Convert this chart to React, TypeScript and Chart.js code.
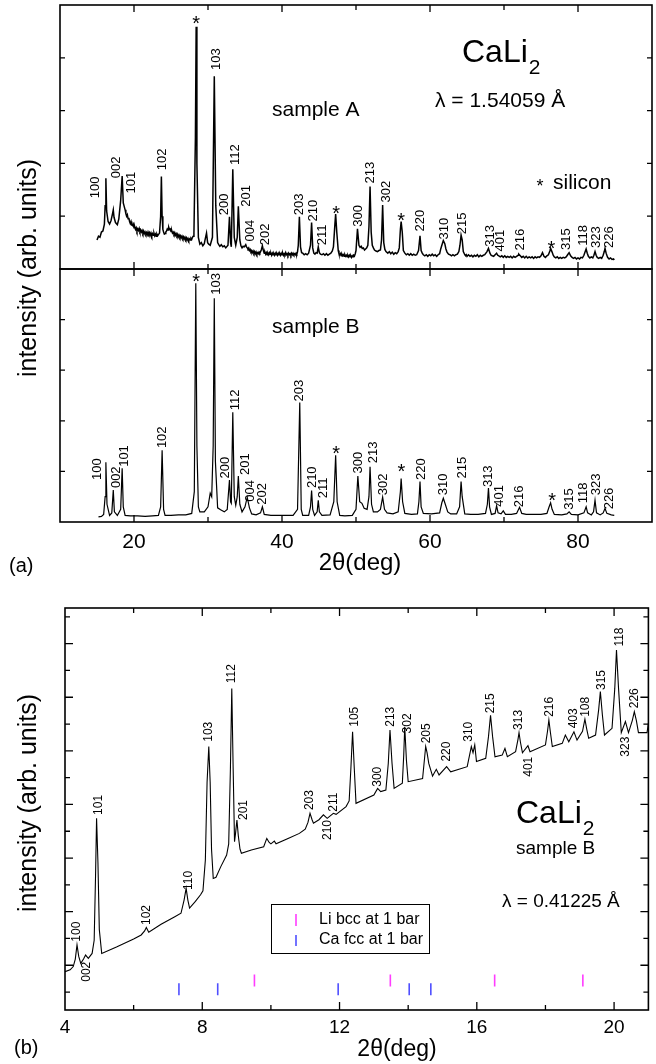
import React, { useEffect, useRef } from "react";
import { Chart, registerables } from "chart.js";

Chart.register(...registerables);

type Pt = [number, number];
type Lbl = [string, number, number, boolean?];

const FONT = "'Liberation Sans', Arial, Helvetica, sans-serif";

// ---------- Panel (a), sample A : [2theta, intensity] ----------
const sampleA: Pt[] = [
  [15.0, 0.55], [15.2, 0.62], [15.4, 0.6], [15.6, 0.7], [15.8, 0.72], [16.0, 0.85], [16.1, 1.2], [16.2, 1.72],
  [16.3, 1.1], [16.5, 0.9], [16.7, 0.85], [16.9, 0.92], [17.1, 1.05], [17.2, 1.12], [17.3, 0.98], [17.5, 0.88],
  [17.75, 0.84], [17.95, 0.95], [18.2, 1.3], [18.4, 1.76], [18.55, 1.25], [18.8, 1.12], [18.9, 1.05], [19.0, 1.0],
  [19.1, 1.03], [19.2, 0.95], [19.3, 0.97], [19.4, 0.9], [19.5, 0.86], [19.6, 0.9], [19.7, 0.83], [19.8, 0.82],
  [19.9, 0.85], [20.0, 0.78], [20.1, 0.8], [20.2, 0.75], [20.3, 0.78], [20.4, 0.72], [20.5, 0.76], [20.6, 0.73],
  [20.7, 0.77], [20.8, 0.71], [20.9, 0.74], [21.0, 0.7], [21.1, 0.73], [21.2, 0.68], [21.3, 0.72], [21.4, 0.67],
  [21.5, 0.7], [21.6, 0.66], [21.7, 0.69], [21.8, 0.65], [21.9, 0.7], [22.0, 0.66], [22.1, 0.69], [22.2, 0.64],
  [22.3, 0.68], [22.4, 0.63], [22.5, 0.67], [22.6, 0.64], [22.7, 0.68], [22.8, 0.63], [22.9, 0.66], [23.0, 0.62],
  [23.1, 0.66], [23.2, 0.63], [23.3, 0.65], [23.45, 0.68], [23.6, 1.0], [23.7, 1.75], [23.8, 1.0], [23.9, 0.75],
  [24.0, 0.7], [24.1, 0.66], [24.2, 0.67], [24.3, 0.7], [24.4, 0.72], [24.5, 0.76], [24.6, 0.74], [24.7, 0.79],
  [24.8, 0.75], [24.9, 0.76], [25.0, 0.71], [25.1, 0.73], [25.2, 0.68], [25.3, 0.7], [25.4, 0.66], [25.5, 0.69],
  [25.6, 0.64], [25.7, 0.67], [25.8, 0.63], [25.9, 0.66], [26.0, 0.61], [26.1, 0.64], [26.2, 0.6], [26.3, 0.63],
  [26.4, 0.59], [26.5, 0.62], [26.6, 0.58], [26.7, 0.61], [26.8, 0.57], [26.9, 0.6], [27.0, 0.56], [27.1, 0.59],
  [27.2, 0.55], [27.3, 0.58], [27.4, 0.54], [27.5, 0.57], [27.6, 0.55], [27.7, 0.58], [27.8, 0.56], [27.9, 0.6],
  [28.0, 0.62], [28.1, 0.68], [28.3, 2.5], [28.4, 4.59], [28.5, 2.0], [28.7, 0.6], [28.9, 0.47], [29.1, 0.5],
  [29.3, 0.44], [29.5, 0.48], [29.6, 0.55], [29.8, 0.68], [29.95, 0.5], [30.1, 0.47], [30.3, 0.45], [30.6, 0.6],
  [30.85, 3.65], [31.05, 1.2], [31.3, 0.5], [31.45, 0.46], [31.6, 0.43], [31.8, 0.46], [32.0, 0.42], [32.2, 0.44],
  [32.4, 0.4], [32.7, 0.45], [32.9, 0.99], [33.05, 0.5], [33.15, 0.42], [33.35, 1.89], [33.55, 0.6], [33.75, 0.45],
  [33.95, 0.6], [34.1, 1.19], [34.3, 0.55], [34.45, 0.44], [34.6, 0.4], [34.75, 0.43], [34.9, 0.42], [35.1, 0.46],
  [35.2, 0.42], [35.3, 0.4], [35.4, 0.38], [35.5, 0.4], [35.6, 0.35], [35.7, 0.37], [35.8, 0.33], [35.9, 0.35],
  [36.0, 0.31], [36.1, 0.34], [36.2, 0.3], [36.3, 0.33], [36.4, 0.29], [36.5, 0.32], [36.6, 0.28], [36.7, 0.31],
  [36.8, 0.29], [36.9, 0.32], [37.0, 0.3], [37.1, 0.33], [37.2, 0.36], [37.35, 0.44], [37.5, 0.34], [37.6, 0.3],
  [37.7, 0.32], [37.8, 0.28], [37.9, 0.31], [38.0, 0.27], [38.1, 0.3], [38.2, 0.27], [38.3, 0.31], [38.4, 0.28],
  [38.5, 0.3], [38.6, 0.26], [38.7, 0.3], [38.8, 0.27], [38.9, 0.29], [39.0, 0.26], [39.1, 0.3], [39.2, 0.27],
  [39.3, 0.29], [39.4, 0.26], [39.5, 0.3], [39.6, 0.27], [39.7, 0.29], [39.8, 0.26], [39.9, 0.3], [40.0, 0.27],
  [40.1, 0.3], [40.2, 0.26], [40.3, 0.29], [40.4, 0.27], [40.5, 0.31], [40.6, 0.27], [40.7, 0.29], [40.8, 0.26],
  [40.9, 0.3], [41.0, 0.27], [41.1, 0.29], [41.2, 0.26], [41.3, 0.3], [41.4, 0.27], [41.5, 0.3], [41.6, 0.27],
  [41.7, 0.29], [41.8, 0.27], [41.9, 0.3], [42.0, 0.28], [42.1, 0.33], [42.2, 0.45], [42.35, 0.99], [42.5, 0.42],
  [42.65, 0.31], [42.8, 0.3], [43.0, 0.27], [43.2, 0.29], [43.4, 0.27], [43.6, 0.3], [43.85, 0.45], [44.0, 0.88],
  [44.15, 0.4], [44.3, 0.3], [44.45, 0.28], [44.6, 0.31], [44.75, 0.3], [44.9, 0.42], [45.05, 0.31], [45.2, 0.28],
  [45.4, 0.27], [45.6, 0.29], [45.8, 0.26], [46.0, 0.29], [46.2, 0.26], [46.4, 0.28], [46.6, 0.3], [46.8, 0.34],
  [46.95, 0.42], [47.15, 0.85], [47.25, 1.04], [47.4, 0.7], [47.6, 0.35], [47.7, 0.29], [47.8, 0.27], [47.9, 0.29],
  [48.0, 0.25], [48.1, 0.28], [48.2, 0.25], [48.3, 0.27], [48.4, 0.24], [48.5, 0.27], [48.6, 0.24], [48.7, 0.26],
  [48.8, 0.23], [48.9, 0.26], [49.0, 0.23], [49.1, 0.26], [49.2, 0.23], [49.3, 0.25], [49.4, 0.22], [49.5, 0.25],
  [49.6, 0.23], [49.7, 0.26], [49.8, 0.25], [49.9, 0.29], [50.0, 0.35], [50.2, 0.76], [50.4, 0.45], [50.55, 0.41],
  [50.7, 0.43], [50.85, 0.39], [51.0, 0.4], [51.15, 0.36], [51.3, 0.38], [51.45, 0.4], [51.6, 0.45], [51.75, 0.8],
  [51.9, 1.56], [52.05, 0.7], [52.2, 0.45], [52.35, 0.4], [52.5, 0.36], [52.7, 0.34], [52.9, 0.33], [53.1, 0.35],
  [53.3, 0.36], [53.45, 0.55], [53.6, 1.21], [53.75, 0.5], [53.9, 0.37], [54.05, 0.33], [54.3, 0.3], [54.5, 0.33],
  [54.7, 0.29], [54.9, 0.32], [55.1, 0.28], [55.3, 0.31], [55.5, 0.29], [55.7, 0.33], [55.85, 0.4], [56.0, 0.75],
  [56.1, 0.9], [56.25, 0.7], [56.4, 0.35], [56.6, 0.3], [56.8, 0.27], [57.0, 0.29], [57.2, 0.26], [57.4, 0.29],
  [57.6, 0.26], [57.8, 0.28], [58.0, 0.26], [58.2, 0.27], [58.45, 0.35], [58.65, 0.63], [58.8, 0.35], [58.95, 0.3],
  [59.1, 0.27], [59.3, 0.25], [59.5, 0.27], [59.7, 0.24], [59.9, 0.27], [60.1, 0.25], [60.3, 0.28], [60.5, 0.25],
  [60.7, 0.27], [60.9, 0.24], [61.1, 0.27], [61.3, 0.29], [61.45, 0.38], [61.6, 0.45], [61.8, 0.54], [62.0, 0.48],
  [62.15, 0.38], [62.3, 0.32], [62.5, 0.28], [62.7, 0.27], [62.9, 0.25], [63.1, 0.27], [63.3, 0.25], [63.5, 0.27],
  [63.7, 0.28], [63.9, 0.33], [64.05, 0.45], [64.2, 0.64], [64.35, 0.55], [64.5, 0.33], [64.7, 0.27], [64.8, 0.25],
  [64.9, 0.27], [65.0, 0.24], [65.2, 0.27], [65.4, 0.24], [65.6, 0.26], [65.8, 0.23], [66.0, 0.26], [66.2, 0.24],
  [66.4, 0.27], [66.6, 0.23], [66.8, 0.26], [67.0, 0.24], [67.2, 0.26], [67.4, 0.27], [67.7, 0.33], [67.9, 0.39],
  [68.1, 0.3], [68.25, 0.26], [68.4, 0.25], [68.6, 0.24], [68.8, 0.27], [69.0, 0.3], [69.15, 0.26], [69.3, 0.25],
  [69.5, 0.23], [69.7, 0.25], [69.9, 0.22], [70.1, 0.25], [70.3, 0.22], [70.5, 0.24], [70.7, 0.22], [70.9, 0.24],
  [71.1, 0.21], [71.3, 0.24], [71.5, 0.22], [71.7, 0.24], [71.9, 0.26], [72.0, 0.28], [72.2, 0.25], [72.4, 0.22],
  [72.6, 0.24], [72.8, 0.21], [73.0, 0.24], [73.2, 0.21], [73.4, 0.23], [73.6, 0.21], [73.8, 0.23], [74.0, 0.2],
  [74.2, 0.23], [74.4, 0.21], [74.6, 0.23], [74.8, 0.22], [75.0, 0.25], [75.2, 0.31], [75.4, 0.24], [75.6, 0.22],
  [75.8, 0.25], [76.0, 0.27], [76.2, 0.34], [76.3, 0.39], [76.5, 0.32], [76.65, 0.26], [76.8, 0.23], [77.0, 0.21],
  [77.2, 0.23], [77.4, 0.2], [77.6, 0.22], [77.8, 0.2], [78.0, 0.22], [78.2, 0.21], [78.4, 0.23], [78.6, 0.27],
  [78.8, 0.31], [79.0, 0.25], [79.2, 0.22], [79.4, 0.2], [79.6, 0.22], [79.8, 0.19], [80.0, 0.21], [80.2, 0.19],
  [80.4, 0.22], [80.6, 0.21], [80.8, 0.26], [80.95, 0.32], [81.1, 0.38], [81.25, 0.3], [81.4, 0.24], [81.6, 0.21],
  [81.8, 0.23], [82.0, 0.21], [82.15, 0.26], [82.3, 0.33], [82.45, 0.26], [82.6, 0.22], [82.8, 0.2], [83.0, 0.22],
  [83.2, 0.2], [83.4, 0.26], [83.55, 0.33], [83.65, 0.39], [83.8, 0.3], [84.0, 0.22], [84.2, 0.19], [84.4, 0.21],
  [84.6, 0.18], [84.8, 0.19], [84.9, 0.17],
];

// ---------- Panel (a), sample B ----------
const sampleB: Pt[] = [
  [15.2, 0.1], [15.6, 0.11], [15.9, 0.15], [16.1, 0.5], [16.2, 1.18], [16.35, 0.35], [16.7, 0.13], [17.0, 0.18],
  [17.2, 0.63], [17.35, 0.2], [17.75, 0.13], [18.2, 0.25], [18.4, 1.06], [18.55, 0.3], [18.8, 0.13], [19.5, 0.12],
  [20.5, 0.12], [21.5, 0.11], [22.5, 0.12], [23.3, 0.13], [23.6, 0.3], [23.8, 1.42], [24.0, 0.25], [24.2, 0.13],
  [25.0, 0.13], [26.0, 0.14], [27.0, 0.14], [27.8, 0.17], [28.15, 0.6], [28.35, 4.72], [28.5, 1.5], [28.7, 0.3],
  [28.9, 0.2], [29.5, 0.2], [30.0, 0.3], [30.3, 0.57], [30.5, 0.5], [30.7, 1.5], [30.85, 4.42], [31.0, 1.2],
  [31.3, 0.28], [31.7, 0.24], [32.2, 0.2], [32.6, 0.25], [32.9, 0.83], [33.05, 0.4], [33.15, 0.37], [33.35, 2.17],
  [33.55, 0.5], [33.75, 0.33], [33.95, 0.5], [34.1, 0.91], [34.3, 0.35], [34.6, 0.2], [35.0, 0.3], [35.3, 0.49],
  [35.6, 0.28], [35.9, 0.16], [36.5, 0.14], [37.1, 0.18], [37.35, 0.3], [37.6, 0.15], [38.5, 0.13], [40.0, 0.13],
  [41.5, 0.13], [42.1, 0.25], [42.4, 2.36], [42.6, 0.25], [42.8, 0.13], [43.6, 0.13], [43.85, 0.3], [44.0, 0.62],
  [44.15, 0.25], [44.4, 0.13], [44.75, 0.2], [44.9, 0.43], [45.05, 0.2], [45.4, 0.13], [46.5, 0.14], [47.0, 0.4],
  [47.25, 1.32], [47.45, 0.4], [47.8, 0.13], [48.5, 0.12], [49.5, 0.13], [50.0, 0.25], [50.25, 0.91], [50.5, 0.4],
  [50.8, 0.37], [51.1, 0.27], [51.5, 0.25], [51.75, 0.5], [51.9, 1.09], [52.1, 0.35], [52.35, 0.2], [52.9, 0.2],
  [53.3, 0.25], [53.6, 0.49], [53.85, 0.25], [54.2, 0.18], [55.0, 0.16], [55.7, 0.2], [56.0, 0.6], [56.1, 0.86],
  [56.3, 0.4], [56.6, 0.17], [57.5, 0.15], [58.3, 0.16], [58.5, 0.4], [58.65, 0.8], [58.8, 0.3], [59.1, 0.17],
  [60.2, 0.16], [61.3, 0.18], [61.6, 0.38], [61.8, 0.47], [62.0, 0.38], [62.4, 0.2], [62.8, 0.16], [63.6, 0.16],
  [64.0, 0.3], [64.2, 0.8], [64.35, 0.5], [64.7, 0.16], [65.5, 0.15], [66.5, 0.15], [67.5, 0.17], [67.75, 0.35],
  [67.9, 0.67], [68.05, 0.3], [68.3, 0.15], [68.8, 0.17], [69.0, 0.32], [69.2, 0.18], [69.6, 0.16], [69.9, 0.22],
  [70.2, 0.15], [71.0, 0.15], [71.7, 0.17], [72.1, 0.29], [72.4, 0.17], [73.0, 0.15], [74.0, 0.15], [75.0, 0.15],
  [75.8, 0.17], [76.1, 0.3], [76.3, 0.38], [76.5, 0.25], [76.8, 0.15], [77.8, 0.14], [78.5, 0.16], [78.8, 0.2],
  [79.1, 0.15], [80.0, 0.14], [80.8, 0.18], [81.1, 0.3], [81.3, 0.18], [81.8, 0.14], [82.1, 0.2], [82.3, 0.43],
  [82.5, 0.18], [83.0, 0.14], [83.4, 0.18], [83.65, 0.27], [83.9, 0.17], [84.5, 0.14], [84.9, 0.13],
];

// ---------- Panel (b), synchrotron pattern of sample B ----------
const patternB: Pt[] = [
  [4.0, 1.43], [4.15, 1.5], [4.24, 1.62], [4.3, 1.9], [4.35, 2.43], [4.4, 2.0], [4.46, 1.74], [4.54, 1.9],
  [4.6, 2.05], [4.68, 1.93], [4.79, 2.11], [4.85, 2.6], [4.89, 5.0], [4.92, 7.15], [4.96, 5.5], [5.0, 3.0],
  [5.07, 2.11], [5.5, 2.35], [6.0, 2.65], [6.22, 2.8], [6.32, 2.95], [6.37, 3.08], [6.44, 2.9], [6.8, 3.2],
  [7.2, 3.48], [7.38, 3.61], [7.47, 4.1], [7.53, 4.54], [7.58, 4.1], [7.63, 3.8], [7.8, 4.05], [7.95, 4.3],
  [8.02, 4.45], [8.09, 5.6], [8.14, 8.5], [8.19, 9.83], [8.23, 8.5], [8.27, 6.0], [8.32, 4.91], [8.4, 4.95],
  [8.54, 5.35], [8.71, 5.78], [8.77, 6.2], [8.82, 9.0], [8.86, 12.0], [8.9, 9.0], [8.94, 6.28], [8.97, 6.6],
  [9.01, 7.09], [9.05, 6.5], [9.1, 6.0], [9.14, 5.85], [9.43, 5.97], [9.79, 6.09], [9.85, 6.3], [9.88, 6.4],
  [9.95, 6.25], [10.0, 6.2], [10.1, 6.3], [10.15, 6.2], [10.5, 6.4], [10.83, 6.59], [11.0, 6.75], [11.08, 7.0],
  [11.14, 7.34], [11.2, 7.1], [11.24, 6.97], [11.4, 7.1], [11.53, 7.28], [11.64, 7.15], [11.82, 7.34], [11.9, 7.3],
  [12.19, 7.59], [12.28, 7.8], [12.33, 9.0], [12.38, 10.38], [12.43, 9.0], [12.48, 7.71], [13.0, 8.02], [13.11, 8.27],
  [13.2, 8.15], [13.35, 8.21], [13.42, 9.2], [13.47, 10.45], [13.53, 9.2], [13.59, 8.27], [13.83, 8.46], [13.87, 9.5],
  [13.9, 10.57], [13.95, 9.3], [14.0, 8.52], [14.42, 8.64], [14.47, 9.3], [14.51, 9.83], [14.55, 9.6], [14.6, 9.2],
  [14.71, 8.73], [14.82, 8.98], [14.9, 8.77], [15.12, 9.08], [15.24, 8.89], [15.72, 9.08], [15.84, 9.83], [15.89, 9.6],
  [15.94, 9.89], [15.99, 9.27], [16.26, 9.39], [16.34, 10.2], [16.4, 11.0], [16.46, 10.2], [16.53, 9.45], [16.74, 9.51],
  [16.82, 9.76], [16.89, 9.45], [17.13, 9.64], [17.2, 10.1], [17.23, 10.35], [17.27, 10.0], [17.33, 9.6], [17.49, 9.86],
  [17.55, 9.64], [18.0, 9.89], [18.06, 10.4], [18.1, 10.82], [18.14, 10.4], [18.2, 9.83], [18.49, 9.95], [18.58, 10.26],
  [18.68, 10.01], [18.83, 10.38], [18.92, 10.07], [19.08, 10.4], [19.15, 10.85], [19.2, 10.5], [19.26, 10.14], [19.46, 10.26],
  [19.55, 11.2], [19.6, 11.88], [19.66, 11.0], [19.72, 10.26], [19.94, 10.51], [20.02, 12.0], [20.07, 13.43], [20.13, 12.0],
  [20.21, 10.35], [20.33, 10.76], [20.42, 10.35], [20.53, 10.8], [20.59, 11.13], [20.65, 10.8], [20.71, 10.35], [20.96, 10.35],
  [21.0, 10.7],
];

// ---------- peak labels: [text, 2theta, intensity, hangs below] ----------
const labelsA: Lbl[] = [
  ["100", 14.75, 1.34], ["002", 17.6, 1.72], ["101", 19.7, 1.43], ["102", 23.9, 1.87], ["*", 28.4, 4.72],
  ["103", 31.2, 3.77], ["200", 32.2, 1.02], ["112", 33.65, 1.97], ["201", 35.2, 1.18], ["004", 35.7, 0.52],
  ["202", 37.7, 0.45], ["203", 42.35, 1.02], ["210", 44.3, 0.9], ["211", 45.5, 0.45], ["*", 47.3, 1.12],
  ["300", 50.3, 0.8], ["213", 51.9, 1.62], ["302", 54.15, 1.26], ["*", 56.1, 0.99], ["220", 58.65, 0.71],
  ["310", 61.9, 0.56], ["215", 64.35, 0.66], ["313", 68.1, 0.42], ["401", 69.55, 0.33], ["216", 72.2, 0.35],
  ["*", 76.4, 0.45], ["315", 78.5, 0.36], ["118", 80.7, 0.44], ["323", 82.5, 0.4], ["226", 84.2, 0.4],
];
const labelsB: Lbl[] = [
  ["100", 15.05, 0.83], ["002", 17.6, 0.67], ["101", 18.65, 1.09], ["102", 23.9, 1.46], ["*", 28.4, 4.82],
  ["103", 31.1, 4.49], ["200", 32.3, 0.86], ["112", 33.65, 2.21], ["201", 35.0, 0.93], ["004", 35.8, 0.4],
  ["202", 37.4, 0.34], ["203", 42.4, 2.38], ["210", 44.1, 0.67], ["211", 45.6, 0.47], ["*", 47.3, 1.42],
  ["300", 50.3, 0.96], ["213", 52.3, 1.16], ["302", 53.7, 0.53], ["*", 56.15, 1.06], ["220", 58.9, 0.83],
  ["310", 61.8, 0.53], ["215", 64.35, 0.86], ["313", 67.9, 0.69], ["401", 69.4, 0.3], ["216", 72.1, 0.29],
  ["*", 76.5, 0.49], ["315", 78.8, 0.24], ["118", 80.8, 0.37], ["323", 82.5, 0.53], ["226", 84.3, 0.25],
];
const labelsC: Lbl[] = [
  ["100", 4.35, 2.55], ["002", 4.63, 1.8, true], ["101", 4.97, 7.28], ["102", 6.37, 3.17], ["110", 7.6, 4.48],
  ["103", 8.19, 10.01], ["112", 8.87, 12.19], ["201", 9.21, 7.09], ["203", 11.14, 7.46], ["210", 11.65, 7.09, true],
  ["211", 11.82, 7.4], ["105", 12.43, 10.57], ["300", 13.11, 8.33], ["213", 13.5, 10.57], ["302", 13.98, 10.32],
  ["205", 14.53, 9.95], ["220", 15.11, 9.27], ["310", 15.77, 10.01], ["215", 16.4, 11.07], ["313", 17.23, 10.45],
  ["401", 17.52, 9.45, true], ["216", 18.12, 10.94], ["403", 18.83, 10.51], ["108", 19.17, 10.94], ["315", 19.65, 11.94],
  ["118", 20.16, 13.56], ["323", 20.35, 10.2, true], ["226", 20.59, 11.26],
];

// ---------- reference reflections (panel b) ----------
const liBcc = [9.52, 13.48, 16.52, 19.09];
const caFcc = [7.32, 8.45, 11.96, 14.03, 14.66];

// ---------- ticks ----------
const aXTicks = [20, 30, 40, 50, 60, 70, 80];
const aXTickLabels = [20, 40, 60, 80];
const aYTicks = [1, 2, 3, 4];
const bXTicks = [6, 8, 10, 12, 14, 16, 18, 20];
const bXTickLabels = [4, 8, 12, 16, 20];
const bYTicks = [0.67, 1.67, 2.67, 3.67, 4.67, 5.67, 6.67, 7.67, 8.67, 9.67, 10.67, 11.67, 12.67, 13.67, 14.67];

const MAGENTA = "#ff3cff";
const BLUE = "#4f4fff";

function text(ctx: CanvasRenderingContext2D, s: string, x: number, y: number, size: number, align: CanvasTextAlign = "left", color = "#000") {
  ctx.font = `${size}px ${FONT}`;
  ctx.textAlign = align;
  ctx.textBaseline = "middle";
  ctx.fillStyle = color;
  ctx.fillText(s, x, y);
}
function vtext(ctx: CanvasRenderingContext2D, s: string, x: number, y: number, size: number, align: CanvasTextAlign = "left") {
  ctx.save();
  ctx.translate(x, y);
  ctx.rotate(-Math.PI / 2);
  text(ctx, s, 0, 0, size, align);
  ctx.restore();
}
function caLi(ctx: CanvasRenderingContext2D, x: number, baseline: number, size: number) {
  ctx.font = `${size}px ${FONT}`;
  ctx.textAlign = "left";
  ctx.textBaseline = "alphabetic";
  ctx.fillStyle = "#000";
  ctx.fillText("CaLi", x, baseline);
  const w = ctx.measureText("CaLi").width;
  ctx.font = `${Math.round(size * 0.66)}px ${FONT}`;
  ctx.fillText("2", x + w + 1, baseline + size * 0.36);
}

function frame(chart: any, xt: number[], majorX: number[], yt: number[], majorY: (v: number, i: number) => boolean, long: number, short: number) {
  const { ctx, chartArea: a, scales } = chart;
  ctx.save();
  ctx.strokeStyle = "#000";
  ctx.lineWidth = 1.6;
  ctx.strokeRect(a.left, a.top, a.right - a.left, a.bottom - a.top);
  ctx.lineWidth = 1.3;
  ctx.beginPath();
  xt.forEach((v) => {
    const px = scales.x.getPixelForValue(v);
    const len = majorX.includes(v) ? long : short;
    ctx.moveTo(px, a.bottom);
    ctx.lineTo(px, a.bottom - len);
    ctx.moveTo(px, a.top);
    ctx.lineTo(px, a.top + len);
  });
  yt.forEach((v, i) => {
    const py = scales.y.getPixelForValue(v);
    const len = majorY(v, i) ? long : short;
    ctx.moveTo(a.left, py);
    ctx.lineTo(a.left + len, py);
    ctx.moveTo(a.right, py);
    ctx.lineTo(a.right - len, py);
  });
  ctx.stroke();
  ctx.restore();
}

function peakLabels(chart: any, list: Lbl[], size: number, starSize: number) {
  const { ctx, scales } = chart;
  ctx.save();
  list.forEach(([t, x, y, below]) => {
    const px = scales.x.getPixelForValue(x);
    const py = scales.y.getPixelForValue(y);
    if (t === "*") {
      text(ctx, "*", px, py + starSize * 0.22, starSize, "center");
    } else {
      vtext(ctx, t, px, py, size, below ? "right" : "left");
    }
  });
  ctx.restore();
}

const toXY = (arr: Pt[]) => arr.map(([x, y]) => ({ x, y }));

function baseOptions(xmin: number, xmax: number, ymin: number, ymax: number, padding: any) {
  return {
    responsive: false,
    animation: false as const,
    devicePixelRatio: 1,
    events: [] as any[],
    layout: { padding },
    plugins: { legend: { display: false }, tooltip: { enabled: false } },
    scales: {
      x: { type: "linear" as const, min: xmin, max: xmax, display: false },
      y: { type: "linear" as const, min: ymin, max: ymax, display: false },
    },
  };
}

function lineDataset(pts: Pt[], width: number) {
  return {
    type: "scatter" as const,
    data: toXY(pts),
    showLine: true,
    borderColor: "#000",
    borderWidth: width,
    pointRadius: 0,
    tension: 0,
  };
}

function configA(): any {
  return {
    type: "scatter",
    data: { datasets: [lineDataset(sampleA, 1.5)] },
    options: baseOptions(10, 90, 0, 5, { left: 60, right: 4, top: 5, bottom: 21 }),
    plugins: [
      {
        id: "decorA",
        afterDatasetsDraw(chart: any) {
          const ctx = chart.ctx;
          frame(chart, aXTicks, aXTickLabels, aYTicks, () => false, 7, 5);
          peakLabels(chart, labelsA, 13, 20);
          caLi(ctx, 462, 62, 32);
          text(ctx, "λ = 1.54059 Å", 435, 101, 21);
          text(ctx, "sample A", 272, 110, 21);
          text(ctx, "*", 540, 183 + 4, 18, "center");
          text(ctx, "silicon", 553, 183, 21);
        },
      },
    ],
  };
}

function configB(): any {
  return {
    type: "scatter",
    data: { datasets: [lineDataset(sampleB, 1.2)] },
    options: baseOptions(10, 90, 0, 5, { left: 60, right: 4, top: 269, bottom: 58 }),
    plugins: [
      {
        id: "decorB",
        afterDatasetsDraw(chart: any) {
          const ctx = chart.ctx;
          const xs = chart.scales.x;
          frame(chart, aXTicks, aXTickLabels, aYTicks, () => false, 7, 5);
          peakLabels(chart, labelsB, 13, 20);
          text(ctx, "sample B", 272, 327, 21);
          aXTickLabels.forEach((v) => text(ctx, String(v), xs.getPixelForValue(v), 542, 21, "center"));
          text(ctx, "2θ(deg)", 360, 563, 24, "center");
          text(ctx, "(a)", 9, 566, 20);
          vtext(ctx, "intensity (arb. units)", 29, 268, 25, "center");
        },
      },
    ],
  };
}

function configC(): any {
  const mark = (xs: number[], y: number, color: string) => ({
    type: "scatter" as const,
    data: xs.map((x) => ({ x, y })),
    showLine: false,
    pointStyle: "line",
    rotation: 90,
    pointRadius: 6,
    pointBorderColor: color,
    pointBorderWidth: 1.6,
    borderColor: color,
  });
  return {
    type: "scatter",
    data: {
      datasets: [lineDataset(patternB, 1.1), mark(liBcc, 1.1, MAGENTA), mark(caFcc, 0.77, BLUE)],
    },
    options: baseOptions(4, 21, 0, 15, { left: 65, right: 6, top: 28, bottom: 54 }),
    plugins: [
      {
        id: "decorC",
        afterDatasetsDraw(chart: any) {
          const ctx = chart.ctx;
          const xs = chart.scales.x;
          frame(chart, bXTicks, bXTickLabels, bYTicks, (_v, i) => i % 2 === 1, 8, 5);
          peakLabels(chart, labelsC, 12, 18);
          caLi(ctx, 516, 243, 32);
          text(ctx, "sample B", 516, 269, 19);
          text(ctx, "λ = 0.41225 Å", 502, 322, 19);
          // legend box
          ctx.save();
          ctx.strokeStyle = "#000";
          ctx.lineWidth = 1;
          ctx.strokeRect(271.5, 324.5, 158, 49);
          ctx.lineWidth = 1.6;
          ctx.strokeStyle = MAGENTA;
          ctx.beginPath();
          ctx.moveTo(296, 334);
          ctx.lineTo(296, 346);
          ctx.stroke();
          ctx.strokeStyle = BLUE;
          ctx.beginPath();
          ctx.moveTo(296, 355);
          ctx.lineTo(296, 366);
          ctx.stroke();
          ctx.restore();
          text(ctx, "Li bcc at 1 bar", 319, 340, 16);
          text(ctx, "Ca fcc at 1 bar", 319, 360, 16);
          bXTickLabels.forEach((v) => text(ctx, String(v), xs.getPixelForValue(v), 448, 19, "center"));
          text(ctx, "2θ(deg)", 397, 470, 23, "center");
          text(ctx, "(b)", 14, 468, 20);
          vtext(ctx, "intensity (arb. units)", 29, 223, 25, "center");
        },
      },
    ],
  };
}

function ChartCanvas({ top, height, build }: { top: number; height: number; build: () => any }) {
  const ref = useRef<HTMLCanvasElement>(null);
  useEffect(() => {
    if (!ref.current) return;
    const chart = new Chart(ref.current, build());
    return () => chart.destroy();
  }, []);
  return (
    <canvas
      ref={ref}
      width={656}
      height={height}
      style={{ position: "absolute", left: 0, top, width: 656, height, display: "block" }}
    />
  );
}

export default function App() {
  return (
    <div style={{ position: "absolute", left: 0, top: 0, width: 656, height: 1064, background: "#fff", overflow: "hidden" }}>
      <ChartCanvas top={0} height={290} build={configA} />
      <ChartCanvas top={0} height={580} build={configB} />
      <ChartCanvas top={580} height={484} build={configC} />
    </div>
  );
}
